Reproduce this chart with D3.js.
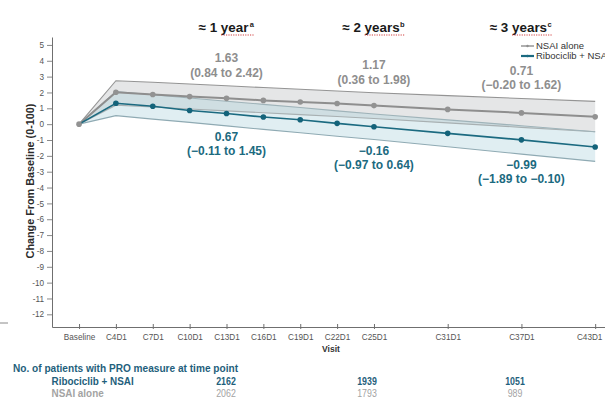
<!DOCTYPE html>
<html>
<head>
<meta charset="utf-8">
<script src="https://cdn.jsdelivr.net/npm/d3@7"></script>
<style>
  html, body { margin: 0; padding: 0; background: #fff; }
  svg { display: block; font-family: "Liberation Sans", Arial, sans-serif; }
</style>
</head>
<body>
<svg id="chart" width="605" height="402"></svg>
<script>
// Visits and their cycle numbers (x positions follow cycle number)
const visits = ["Baseline", "C4D1", "C7D1", "C10D1", "C13D1", "C16D1", "C19D1", "C22D1", "C25D1", "C31D1", "C37D1", "C43D1"];
const cycles = [1, 4, 7, 10, 13, 16, 19, 22, 25, 31, 37, 43];

// Mean change from baseline with 95% CI, NSAI alone
const nsaiMean = [0, 2.01, 1.87, 1.74, 1.63, 1.50, 1.40, 1.30, 1.17, 0.93, 0.71, 0.46];
const nsaiLow  = [0, 1.20, 1.08, 0.96, 0.84, 0.72, 0.60, 0.48, 0.36, 0.08, -0.20, -0.48];
const nsaiHigh = [0, 2.74, 2.64, 2.53, 2.42, 2.31, 2.20, 2.09, 1.98, 1.80, 1.62, 1.44];

// Mean change from baseline with 95% CI, Ribociclib + NSAI
const riboMean = [0, 1.32, 1.13, 0.86, 0.67, 0.45, 0.28, 0.05, -0.16, -0.58, -0.99, -1.44];
const riboLow  = [0, 0.54, 0.32, 0.11, -0.11, -0.33, -0.54, -0.76, -0.97, -1.43, -1.89, -2.35];
const riboHigh = [0, 2.06, 1.86, 1.65, 1.45, 1.25, 1.05, 0.84, 0.64, 0.27, -0.10, -0.48];

// Y-axis ticks
const yTicks = [5, 4, 3, 2, 1, 0, -1, -2, -3, -4, -5, -6, -7, -8, -9, -10, -11, -12];

// Time point headings and the visits they refer to
const yearLabels = ["≈ 1 year", "≈ 2 years", "≈ 3 years"];
const yearNotes = ["a", "b", "c"];
const yearVisits = ["C13D1", "C25D1", "C37D1"];

// Number of patients with PRO measure at each time point
const riboN = [2162, 1939, 1051];
const nsaiN = [2062, 1793, 989];

const seriesNames = ["NSAI alone", "Ribociclib + NSAI"];

const GREY = "#8e8e8e";
const TEAL = "#1b6a80";
const TABLE_TEAL = "#1f5f7c";

const svg = d3.select("#chart");

const x = d3.scaleLinear().domain([-1.2, 43.8]).range([52, 605]);
const y = d3.scaleLinear().domain([-12.8, 5.5]).range([327, 37]);

const rows = (mean, lo, hi) => cycles.map((c, i) => ({ c, v: mean[i], lo: lo[i], hi: hi[i], visit: visits[i] }));
const nsai = rows(nsaiMean, nsaiLow, nsaiHigh);
const ribo = rows(riboMean, riboLow, riboHigh);

// Confidence bands
const band = d3.area().x(d => x(d.c)).y0(d => y(d.lo)).y1(d => y(d.hi));
svg.append("path").datum(nsai).attr("d", band)
  .attr("fill", "#d3d6d7").attr("fill-opacity", 0.6);
svg.append("path").datum(ribo).attr("d", band)
  .attr("fill", "#a9d0db").attr("fill-opacity", 0.36);

const edge = key => d3.line().x(d => x(d.c)).y(d => y(d[key]));
[["hi", nsai, "#949494"], ["lo", nsai, "#a8b0b2"], ["hi", ribo, "#9fb3b9"], ["lo", ribo, "#8faab3"]]
  .forEach(([k, data, col]) => {
    svg.append("path").datum(data).attr("d", edge(k))
      .attr("fill", "none").attr("stroke", col).attr("stroke-width", 1.1);
  });

// Mean lines and points
const meanLine = d3.line().x(d => x(d.c)).y(d => y(d.v));
svg.append("path").datum(nsai).attr("d", meanLine)
  .attr("fill", "none").attr("stroke", GREY).attr("stroke-width", 2);
svg.append("path").datum(ribo).attr("d", meanLine)
  .attr("fill", "none").attr("stroke", TEAL).attr("stroke-width", 1.6);
svg.append("g").selectAll("circle").data(nsai).join("circle")
  .attr("cx", d => x(d.c)).attr("cy", d => y(d.v)).attr("r", 2.8).attr("fill", "#929292");
svg.append("g").selectAll("circle").data(ribo.slice(1)).join("circle")
  .attr("cx", d => x(d.c)).attr("cy", d => y(d.v)).attr("r", 2.8).attr("fill", "#14637a");

// Axes
const yAxis = svg.append("g").attr("transform", `translate(${x.range()[0]},0)`)
  .call(d3.axisLeft(y).tickValues(yTicks).tickFormat(d => String(d)).tickSize(5).tickPadding(3).tickSizeOuter(0));
yAxis.select(".domain").attr("stroke", "#6f6f6f");
yAxis.selectAll(".tick line").attr("stroke", "#8a8a8a");
yAxis.selectAll(".tick text").attr("fill", "#555").style("font-size", "8.2px")
  .style("font-family", "'Liberation Sans', Arial, sans-serif");

const xAxis = svg.append("g").attr("transform", `translate(0,${y.range()[0]})`)
  .call(d3.axisBottom(x).tickValues(cycles).tickFormat((d, i) => visits[i]).tickSize(2).tickPadding(5).tickSizeOuter(0));
xAxis.select(".domain").attr("stroke", "#6f6f6f");
xAxis.selectAll(".tick line").attr("y1", -3).attr("y2", 2).attr("stroke", "#6f6f6f");
xAxis.selectAll(".tick text").attr("fill", "#555").style("font-size", "8.2px")
  .style("font-family", "'Liberation Sans', Arial, sans-serif");
// keep the last visit label inside the frame
xAxis.selectAll(".tick text").filter((d, i, n) => i === n.length - 1).attr("dx", -6);

// Axis titles
svg.append("text")
  .attr("transform", "translate(34,181) rotate(-90)")
  .attr("text-anchor", "middle").attr("font-weight", "bold").attr("font-size", 10.8).attr("fill", "#2b2b2b")
  .text("Change From Baseline (0-100)");
svg.append("text").attr("x", 331).attr("y", 352)
  .attr("text-anchor", "middle").attr("font-weight", "bold").attr("font-size", 8.5).attr("fill", "#333")
  .text("Visit");

// Small mark at the lower left edge
svg.append("line").attr("x1", 0).attr("x2", 8).attr("y1", 323).attr("y2", 323)
  .attr("stroke", "#8a8a8a").attr("stroke-width", 1);

// Time point headings
const cycleOf = v => cycles[visits.indexOf(v)];
yearLabels.forEach((lab, i) => {
  const cx = x(cycleOf(yearVisits[i]));
  const t = svg.append("text").attr("x", cx - 3).attr("y", 32)
    .attr("text-anchor", "middle").attr("font-weight", "bold").attr("font-size", 13.4).attr("fill", "#1a1a1a")
    .text(lab);
  const bb = t.node().getBBox();
  svg.append("text").attr("x", bb.x + bb.width + 0.5).attr("y", 27)
    .attr("font-weight", "bold").attr("font-size", 7.5).attr("fill", "#222").text(yearNotes[i]);
  const wordStart = bb.x + bb.width - (lab.length - lab.indexOf("y")) * 7.0;
  svg.append("line").attr("x1", wordStart).attr("x2", bb.x + bb.width + 5)
    .attr("y1", 35).attr("y2", 35)
    .attr("stroke", "#d04040").attr("stroke-width", 1.2).attr("stroke-dasharray", "1.2,1.2");
});

// Value annotations at each time point
const fmt = v => (v < 0 ? "\u2212" : "") + Math.abs(v).toFixed(2);
yearVisits.forEach(v => {
  const i = visits.indexOf(v);
  const cx = x(cycles[i]);
  const yTop = y(nsaiHigh[i]) - 9;
  svg.append("text").attr("x", cx).attr("y", yTop - 14.5)
    .attr("text-anchor", "middle").attr("font-weight", "bold").attr("font-size", 12).attr("fill", GREY)
    .text(fmt(nsaiMean[i]));
  svg.append("text").attr("x", cx).attr("y", yTop)
    .attr("text-anchor", "middle").attr("font-weight", "bold").attr("font-size", 12).attr("fill", GREY)
    .text(`(${fmt(nsaiLow[i])} to ${fmt(nsaiHigh[i])})`);
  const yBot = y(riboLow[i]) + 15;
  svg.append("text").attr("x", cx).attr("y", yBot)
    .attr("text-anchor", "middle").attr("font-weight", "bold").attr("font-size", 12).attr("fill", TEAL)
    .text(fmt(riboMean[i]));
  svg.append("text").attr("x", cx).attr("y", yBot + 14)
    .attr("text-anchor", "middle").attr("font-weight", "bold").attr("font-size", 12).attr("fill", TEAL)
    .text(`(${fmt(riboLow[i])} to ${fmt(riboHigh[i])})`);
});

// Legend (runs off the right edge)
const legend = svg.append("g");
[[GREY, 1.4, 46], [TEAL, 2.2, 56]].forEach(([col, w, ly], i) => {
  legend.append("line").attr("x1", 521).attr("x2", 534).attr("y1", ly).attr("y2", ly)
    .attr("stroke", col).attr("stroke-width", w);
  legend.append("circle").attr("cx", 527.5).attr("cy", ly).attr("r", 1.2).attr("fill", col);
  legend.append("text").attr("x", 536).attr("y", ly + 3.3)
    .attr("font-size", 9.5).attr("fill", "#333").text(seriesNames[i]);
});

// Patient counts table (condensed type)
const condensed = (sel, k) => sel.each(function () {
  const s = d3.select(this);
  const tx = +s.attr("x"), ty = +s.attr("y");
  s.attr("x", 0).attr("y", 0).attr("transform", `translate(${tx},${ty}) scale(${k},1)`);
});
svg.append("text").attr("x", 13).attr("y", 372)
  .attr("font-weight", "bold").attr("font-size", 11).attr("fill", TABLE_TEAL)
  .text("No. of patients with PRO measure at time point").call(condensed, 0.92);
svg.append("text").attr("x", 51.5).attr("y", 384.5)
  .attr("font-weight", "bold").attr("font-size", 11).attr("fill", TABLE_TEAL)
  .text("Ribociclib + NSAI").call(condensed, 0.9);
svg.append("text").attr("x", 51.5).attr("y", 397)
  .attr("font-weight", "bold").attr("font-size", 11).attr("fill", "#a3a3a3")
  .text("NSAI alone").call(condensed, 0.9);
const countX = [226, 367, 515];
riboN.forEach((n, i) => {
  svg.append("text").attr("x", countX[i]).attr("y", 384.5)
    .attr("text-anchor", "middle").attr("font-weight", "bold").attr("font-size", 11).attr("fill", TABLE_TEAL)
    .text(n).call(condensed, 0.8);
  svg.append("text").attr("x", countX[i]).attr("y", 397)
    .attr("text-anchor", "middle").attr("font-size", 11).attr("fill", "#a3a3a3")
    .text(nsaiN[i]).call(condensed, 0.8);
});
</script>
</body>
</html>
